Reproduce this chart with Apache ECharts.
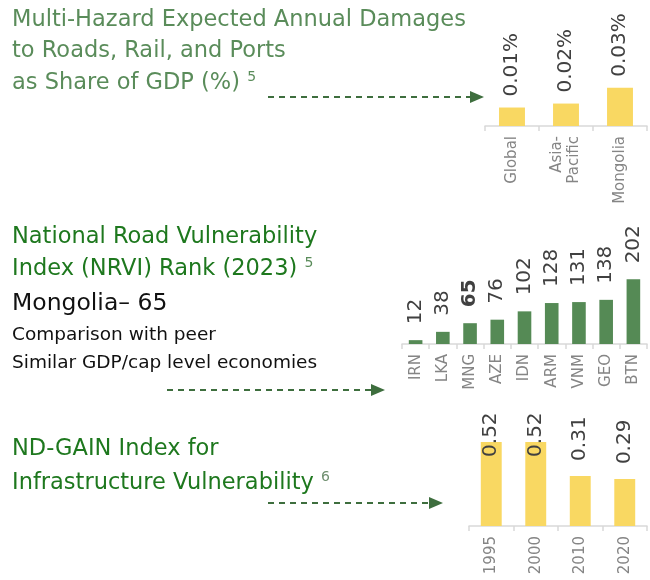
<!DOCTYPE html>
<html>
<head>
<meta charset="utf-8">
<script src="https://cdn.jsdelivr.net/npm/echarts@6/dist/echarts.min.js"></script>
<style>
  html, body { margin: 0; padding: 0; background: #fff; }
  #main { width: 650px; height: 580px; }
</style>
</head>
<body>
<div id="main"></div>
<script>
// top chart: damages as share of GDP (%)
const damageCats = ['Global', 'Asia-\nPacific', 'Mongolia']
const damageValues = [0.014, 0.017, 0.029]

// middle chart: NRVI rank 2023
const nrviCats = ['IRN', 'LKA', 'MNG', 'AZE', 'IDN', 'ARM', 'VNM', 'GEO', 'BTN']
const nrviValues = [12, 38, 65, 76, 102, 128, 131, 138, 202]
const highlight = 'MNG'

// bottom chart: ND-GAIN infrastructure vulnerability
const gainCats = ['1995', '2000', '2010', '2020']
const gainValues = [0.52, 0.52, 0.31, 0.29]

const FONT = 'DejaVu Sans'
const YELLOW = '#F9D862'
const GREEN = '#558A55'
const ARROW = '#3E6E3E'
const TITLE_LIGHT = '#5A8C5A'
const TITLE_DARK = '#1E781E'
const TSIZE = 22.5

var chart = echarts.init(document.getElementById('main'))

const xAxisBase = (idx, cats) => ({
    type: 'category',
    gridIndex: idx,
    data: cats,
    axisLine: { lineStyle: { color: '#D9D9D9', width: 1.5 } },
    axisTick: { show: true, length: 5, lineStyle: { color: '#D9D9D9', width: 1.5 } },
    axisLabel: { rotate: 90, color: '#858585', fontSize: 15, fontFamily: FONT, margin: 10, interval: 0, lineHeight: 17 }
})

const yAxisBase = (idx, max) => ({
    type: 'value', gridIndex: idx, min: 0, max: max, show: false, splitLine: { show: false }
})

const valueLabel = (dist, fmt) => ({
    show: true,
    position: 'top',
    rotate: 90,
    align: 'left',
    verticalAlign: 'middle',
    distance: dist,
    color: '#404040',
    fontSize: 20,
    fontFamily: FONT,
    formatter: fmt
})

// arrows: dashed line + head
function arrow(x1, x2, y) {
    return [
        { type: 'line', shape: { x1: x1, y1: y, x2: x2 - 12, y2: y }, style: { stroke: ARROW, lineWidth: 1.8, lineDash: [6, 5] } },
        { type: 'polygon', shape: { points: [[x2 - 14, y - 6], [x2, y], [x2 - 14, y + 6]] }, style: { fill: ARROW } }
    ]
}

function txt(y, text, size, color, supColor) {
    return {
        type: 'text', x: 12, y: y,
        style: {
            text: text, fontSize: size, fontFamily: FONT, fill: color, verticalAlign: 'middle',
            rich: { sup: { fontSize: 14, fontFamily: FONT, fill: supColor, verticalAlign: 'bottom', padding: [0, 0, 12, 0] } }
        }
    }
}

var option = {
    animation: false,
    grid: [
        { left: 485, width: 162, top: 60, height: 66 },
        { left: 402, width: 245, top: 264, height: 80 },
        { left: 469, width: 178, top: 429, height: 97 }
    ],
    xAxis: [xAxisBase(0, damageCats), xAxisBase(1, nrviCats), xAxisBase(2, gainCats)],
    yAxis: [yAxisBase(0, 0.05), yAxisBase(1, 250), yAxisBase(2, 0.6)],
    series: [
        {
            type: 'bar', xAxisIndex: 0, yAxisIndex: 0, barWidth: '48%',
            itemStyle: { color: YELLOW },
            label: valueLabel(11, p => p.value.toFixed(2) + '%'),
            data: damageValues
        },
        {
            type: 'bar', xAxisIndex: 1, yAxisIndex: 1, barWidth: '50%',
            itemStyle: { color: GREEN },
            label: valueLabel(16),
            data: nrviValues.map((v, i) => nrviCats[i] === highlight ? { value: v, label: { fontWeight: 'bold' } } : v)
        },
        {
            type: 'bar', xAxisIndex: 2, yAxisIndex: 2, barWidth: '47%',
            itemStyle: { color: YELLOW },
            label: valueLabel(15, p => p.value.toFixed(2)),
            // labels that would run past the plot top get pulled down into the bar
            data: gainValues.map(v => v > 0.45 ? { value: v, label: { distance: -15 } } : v)
        }
    ],
    graphic: [
        {
            type: 'group', x: 0, y: 0,
            children: [
                txt(20, 'Multi-Hazard Expected Annual Damages', TSIZE, TITLE_LIGHT),
                txt(51, 'to Roads, Rail, and Ports', TSIZE, TITLE_LIGHT),
                txt(83, 'as Share of GDP (%) {sup|5}', TSIZE, TITLE_LIGHT, TITLE_LIGHT),

                txt(237, 'National Road Vulnerability', TSIZE, TITLE_DARK),
                txt(269, 'Index (NRVI) Rank (2023) {sup|5}', TSIZE, TITLE_DARK, TITLE_LIGHT),
                txt(304, 'Mongolia– 65', 23.5, '#111'),
                txt(335, 'Comparison with peer', 18.5, '#111'),
                txt(363, 'Similar GDP/cap level economies', 18.5, '#111'),

                txt(449, 'ND-GAIN Index for', TSIZE, TITLE_DARK),
                txt(483, 'Infrastructure Vulnerability {sup|6}', TSIZE, TITLE_DARK, '#6F8F6F')
            ].concat(arrow(268, 484, 97), arrow(167, 385, 390), arrow(268, 443, 503))
        }
    ]
}

chart.setOption(option)
</script>
</body>
</html>
